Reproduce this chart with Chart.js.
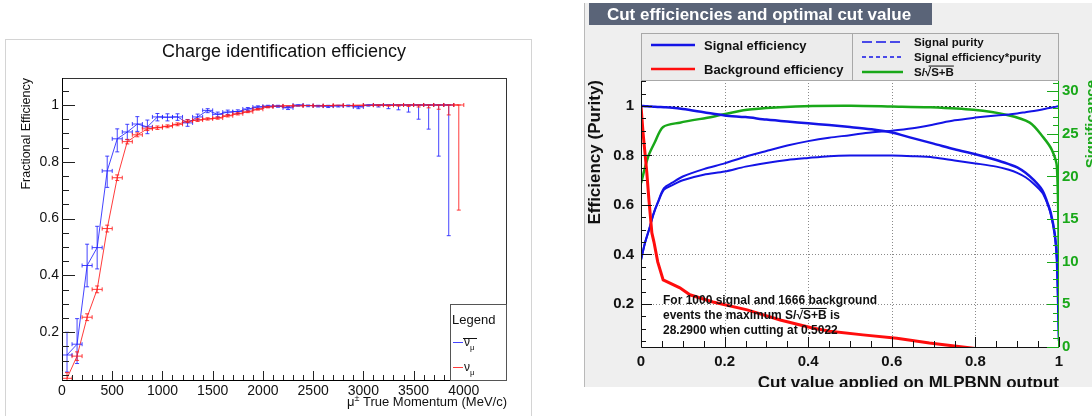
<!DOCTYPE html>
<html>
<head>
<meta charset="utf-8">
<script src="https://cdn.jsdelivr.net/npm/chart.js@4.4.1/dist/chart.umd.min.js"></script>
<style>
html, body { margin: 0; padding: 0; background: #fff; width: 1092px; height: 416px; overflow: hidden; }
#leftFrame { position: absolute; left: 5px; top: 39px; width: 527px; height: 390px; border: 1px solid #d4d4d4; box-sizing: border-box; }
#left { position: absolute; left: 0; top: 0; }
#rightBg { position: absolute; left: 584px; top: 3px; width: 508px; height: 384px; background: #efefef; border-left: 1px solid #b9b9b9; box-sizing: border-box; }
#right { position: absolute; left: 584px; top: 0; }
</style>
</head>
<body>
<div id="leftFrame"></div>
<canvas id="left" width="540" height="416"></canvas>
<div id="rightBg"></div>
<canvas id="right" width="508" height="387"></canvas>
<script>
// ---------- left: charge identification efficiency ----------
const momentum = [50, 150, 250, 350, 450, 550, 650, 750, 850, 950,
  1050, 1150, 1250, 1350, 1450, 1550, 1650, 1750, 1850, 1950,
  2050, 2150, 2250, 2350, 2450, 2550, 2650, 2750, 2850, 2950,
  3050, 3150, 3250, 3350, 3450, 3550, 3650, 3750, 3850, 3950];
const binHalf = 50;

const effAntiNu = [0.12, 0.158, 0.435, 0.498, 0.768, 0.881, 0.905, 0.933, 0.923, 0.958,
  0.957, 0.958, 0.937, 0.958, 0.981, 0.967, 0.975, 0.977, 0.986, 0.993,
  0.996, 0.996, 0.99, 1.0, 0.998, 0.997, 0.996, 0.997, 0.998, 0.993,
  1.0, 1.0, 1.0, 1.0, 1.0, 1.0, 1.0, 1.0, 1.0, null];
const errAntiNuLo = [0.06, 0.068, 0.075, 0.075, 0.058, 0.046, 0.027, 0.026, 0.024, 0.014,
  0.013, 0.012, 0.012, 0.01, 0.008, 0.009, 0.008, 0.007, 0.006, 0.005,
  0.004, 0.004, 0.006, 0.004, 0.004, 0.004, 0.005, 0.004, 0.004, 0.006,
  0.004, 0.007, 0.013, 0.017, 0.025, 0.05, 0.085, 0.18, 0.46, 0];
const errAntiNuHi = [0.08, 0.09, 0.075, 0.075, 0.052, 0.035, 0.027, 0.026, 0.024, 0.012,
  0.012, 0.011, 0.012, 0.01, 0.006, 0.008, 0.007, 0.006, 0.005, 0.004,
  0.003, 0.003, 0.005, 0, 0.002, 0.002, 0.003, 0.002, 0.002, 0.004,
  0, 0, 0, 0, 0, 0, 0, 0, 0, 0];

const effNu = [0.038, 0.116, 0.253, 0.351, 0.565, 0.744, 0.871, 0.895, 0.916, 0.92,
  0.925, 0.932, 0.943, 0.947, 0.951, 0.954, 0.962, 0.969, 0.976, 0.985,
  0.993, 0.996, 0.997, 0.997, 0.998, 0.997, 0.998, 0.999, 0.998, 0.999,
  0.999, 1.0, 0.999, 1.0, 1.0, 1.0, 1.0, 1.0, 1.0, 1.0];
const errNuLo = [0.01, 0.015, 0.012, 0.012, 0.012, 0.01, 0.008, 0.007, 0.006, 0.006,
  0.005, 0.005, 0.005, 0.005, 0.004, 0.004, 0.004, 0.004, 0.003, 0.003,
  0.003, 0.002, 0.002, 0.002, 0.002, 0.002, 0.002, 0.002, 0.002, 0.002,
  0.002, 0.003, 0.003, 0.004, 0.005, 0.007, 0.01, 0.015, 0.035, 0.37];
const errNuHi = [0.02, 0.015, 0.012, 0.012, 0.012, 0.01, 0.008, 0.007, 0.006, 0.006,
  0.005, 0.005, 0.005, 0.005, 0.004, 0.004, 0.004, 0.004, 0.003, 0.003,
  0.002, 0.002, 0.002, 0.002, 0.001, 0.002, 0.001, 0.001, 0.001, 0.001,
  0.001, 0, 0.001, 0, 0, 0, 0, 0, 0, 0];

const momTicks = [0, 500, 1000, 1500, 2000, 2500, 3000, 3500, 4000];
const fracTicks = [0.2, 0.4, 0.6, 0.8, 1];

// ---------- right: cut efficiencies ----------
const cutVal = [0, 0.01, 0.02, 0.03, 0.04, 0.055, 0.075, 0.1, 0.15, 0.2, 0.25, 0.3, 0.35, 0.4, 0.45,
  0.5, 0.55, 0.6, 0.65, 0.7, 0.75, 0.8, 0.85, 0.88, 0.9, 0.92, 0.94, 0.96, 0.97, 0.98, 0.99, 0.995, 1.0];
const sigEff = [1.0, 0.999, 0.998, 0.997, 0.996, 0.995, 0.993, 0.988, 0.975, 0.962, 0.955, 0.945, 0.937, 0.93, 0.923,
  0.915, 0.906, 0.893, 0.87, 0.848, 0.825, 0.805, 0.782, 0.765, 0.752, 0.73, 0.7, 0.66, 0.62, 0.57, 0.48, 0.38, 0.05];
const sigPurity = [0.378, 0.45, 0.505, 0.565, 0.61, 0.668, 0.69, 0.715, 0.745, 0.768, 0.795, 0.818, 0.84, 0.858, 0.872,
  0.882, 0.893, 0.9, 0.91, 0.925, 0.942, 0.953, 0.962, 0.966, 0.97, 0.975, 0.98, 0.986, 0.99, 0.993, 0.996, 0.998, 1.0];
const sigEffPurity = [0.378, 0.449, 0.504, 0.563, 0.607, 0.662, 0.68, 0.7, 0.722, 0.735, 0.755, 0.77, 0.782, 0.79, 0.797,
  0.8, 0.8, 0.8, 0.797, 0.792, 0.78, 0.768, 0.755, 0.742, 0.73, 0.712, 0.685, 0.65, 0.615, 0.565, 0.48, 0.38, 0.05];

const bgCut = [0, 0.005, 0.014, 0.019, 0.026, 0.031, 0.04, 0.053, 0.093, 0.117, 0.172, 0.254, 0.333, 0.41, 0.452,
  0.531, 0.612, 0.69, 0.75, 0.8];
const bgEff = [1.0, 0.89, 0.73, 0.62, 0.487, 0.45, 0.37, 0.297, 0.265, 0.237, 0.208, 0.176, 0.135, 0.103, 0.09,
  0.075, 0.061, 0.042, 0.03, 0.02];

const sigCut = [0, 0.017, 0.033, 0.053, 0.093, 0.172, 0.254, 0.333, 0.41, 0.5022, 0.6, 0.69, 0.795, 0.876, 0.93,
  0.962, 0.983, 0.995, 1.0];
const significance = [19.2, 22.3, 24.0, 25.8, 26.3, 27.0, 27.8, 28.1, 28.25, 28.29, 28.2, 28.1, 27.8, 27.2, 26.3,
  24.6, 23.1, 21.1, 8.0];

const cutTicks = [0, 0.2, 0.4, 0.6, 0.8, 1];
const effTicks = [0.2, 0.4, 0.6, 0.8, 1];
const sigTicks = [0, 5, 10, 15, 20, 25, 30];

const FONT = '"Liberation Sans", Arial, Helvetica, sans-serif';
const blueL = 'rgba(35,35,255,0.85)';
const redL = 'rgba(255,25,25,0.85)';
const blueR = '#1414e6';
const redR = '#ff0d0d';
const greenR = '#19a819';

function pts(xs, ys) {
  return xs.map((x, i) => ({ x: x, y: ys[i] }));
}

function steps(min, max, step) {
  const out = [];
  for (let v = Math.ceil(min / step) * step; v <= max + 1e-9; v += step) out.push(+v.toFixed(6));
  return out;
}

function ticksInside(ctx, scale, values, len, side, a) {
  ctx.beginPath();
  values.forEach(v => {
    if (v < scale.min || v > scale.max) return;
    const p = Math.round(scale.getPixelForValue(v)) + 0.5;
    if (side === 'bottom') { ctx.moveTo(p, a.bottom); ctx.lineTo(p, a.bottom - len); }
    if (side === 'left') { ctx.moveTo(a.left, p); ctx.lineTo(a.left + len, p); }
    if (side === 'right') { ctx.moveTo(a.right, p); ctx.lineTo(a.right - len, p); }
  });
  ctx.stroke();
}

function vText(ctx, text, x, yEnd, font, color) {
  ctx.save();
  ctx.translate(x, yEnd);
  ctx.rotate(-Math.PI / 2);
  ctx.font = font;
  ctx.fillStyle = color;
  ctx.textAlign = 'right';
  ctx.textBaseline = 'alphabetic';
  ctx.fillText(text, 0, 0);
  ctx.restore();
}

// S/sqrt(S+B) with an overline over S+B
function sqrtText(ctx, before, after, x, y, font) {
  ctx.font = font;
  ctx.textAlign = 'left';
  ctx.fillText(before + 'S/\u221A', x, y);
  const w0 = ctx.measureText(before + 'S/').width;
  const w1 = ctx.measureText(before + 'S/\u221A').width;
  const w2 = ctx.measureText('S+B').width;
  ctx.fillText('S+B' + after, x + w1, y);
  const h = parseFloat(font.match(/(\d+(\.\d+)?)px/)[1]);
  ctx.save();
  ctx.lineWidth = 1;
  ctx.beginPath();
  ctx.moveTo(x + w0 + (w1 - w0) * 0.6, y - h * 0.92 + 0.5);
  ctx.lineTo(x + w1 + w2, y - h * 0.92 + 0.5);
  ctx.strokeStyle = ctx.fillStyle;
  ctx.stroke();
  ctx.restore();
}

const leftDecor = {
  id: 'leftDecor',
  afterDatasetsDraw(chart) {
    const { ctx, chartArea: a } = chart;
    const xs = chart.scales.x, ys = chart.scales.y;
    ctx.save();
    ctx.beginPath();
    ctx.rect(a.left, a.top, a.right - a.left, a.bottom - a.top);
    ctx.clip();
    chart.data.datasets.forEach(ds => {
      ctx.strokeStyle = ds.borderColor;
      ctx.lineWidth = 1;
      ctx.beginPath();
      ds.data.forEach((p, i) => {
        if (p.y === null) return;
        const px = xs.getPixelForValue(p.x), py = ys.getPixelForValue(p.y);
        const x0 = xs.getPixelForValue(p.x - binHalf), x1 = xs.getPixelForValue(p.x + binHalf);
        const yLo = ys.getPixelForValue(p.y - ds.errLo[i]), yHi = ys.getPixelForValue(p.y + ds.errHi[i]);
        ctx.moveTo(x0, py); ctx.lineTo(x1, py);
        ctx.moveTo(x0, py - 2); ctx.lineTo(x0, py + 2);
        ctx.moveTo(x1, py - 2); ctx.lineTo(x1, py + 2);
        if (ds.errLo[i] > 0.002 || ds.errHi[i] > 0.002) {
          ctx.moveTo(px, yLo); ctx.lineTo(px, yHi);
          ctx.moveTo(px - 2, yLo); ctx.lineTo(px + 2, yLo);
          ctx.moveTo(px - 2, yHi); ctx.lineTo(px + 2, yHi);
        }
      });
      ctx.stroke();
    });
    ctx.restore();
  },
  afterDraw(chart) {
    const { ctx, chartArea: a } = chart;
    const xs = chart.scales.x, ys = chart.scales.y;
    ctx.save();
    // frame
    ctx.strokeStyle = '#333';
    ctx.lineWidth = 1;
    ctx.strokeRect(a.left + 0.5, a.top + 0.5, a.right - a.left - 1, a.bottom - a.top);
    ctx.strokeStyle = '#000';
    ctx.beginPath();
    ctx.moveTo(a.left + 0.5, a.top); ctx.lineTo(a.left + 0.5, a.bottom + 0.5); ctx.lineTo(a.right, a.bottom + 0.5);
    ctx.stroke();
    ctx.strokeStyle = '#222';
    ticksInside(ctx, xs, momTicks, 9, 'bottom', a);
    ticksInside(ctx, xs, steps(0, 4430, 100), 5, 'bottom', a);
    ticksInside(ctx, ys, fracTicks, 13, 'left', a);
    ticksInside(ctx, ys, steps(ys.min, ys.max, 0.05), 7, 'left', a);

    // titles
    ctx.fillStyle = '#111';
    ctx.font = '18px ' + FONT;
    ctx.textAlign = 'center';
    ctx.textBaseline = 'middle';
    ctx.fillText('Charge identification efficiency', 284, 52);
    vText(ctx, 'Fractional Efficiency', 30, a.top, '12.5px ' + FONT, '#111');

    ctx.textBaseline = 'alphabetic';
    ctx.textAlign = 'left';
    ctx.font = '13px ' + FONT;
    const rest = ' True Momentum (MeV/c)';
    const wMu = ctx.measureText('\u03BC').width;
    const wRest = ctx.measureText(rest).width;
    ctx.font = '9px ' + FONT;
    const wPm = ctx.measureText('\u00B1').width;
    let x = a.right - wRest - wPm - wMu;
    ctx.font = '13px ' + FONT;
    ctx.fillText('\u03BC', x, 406);
    ctx.font = '9px ' + FONT;
    ctx.fillText('\u00B1', x + wMu, 401);
    ctx.font = '13px ' + FONT;
    ctx.fillText(rest, x + wMu + wPm, 406);

    // legend box
    const lx = 450, ly = 304;
    ctx.fillStyle = '#fff';
    ctx.fillRect(lx, ly, a.right - lx, a.bottom - ly);
    ctx.strokeStyle = '#555';
    ctx.strokeRect(lx + 0.5, ly + 0.5, a.right - lx - 1, a.bottom - ly);
    ctx.fillStyle = '#111';
    ctx.font = '13px ' + FONT;
    ctx.fillText('Legend', lx + 2, 324);
    const rows = [{ c: blueL, y: 342, bar: true }, { c: redL, y: 367, bar: false }];
    rows.forEach(r => {
      ctx.strokeStyle = r.c;
      ctx.beginPath();
      ctx.moveTo(lx + 3, r.y + 0.5); ctx.lineTo(lx + 13, r.y + 0.5);
      ctx.stroke();
      ctx.fillStyle = '#111';
      ctx.font = '12px ' + FONT;
      ctx.fillText('\u03BD', lx + 14, r.y + 4);
      ctx.font = '8px ' + FONT;
      ctx.fillText('\u03BC', lx + 20, r.y + 8);
      if (r.bar) {
        ctx.strokeStyle = '#111';
        ctx.beginPath();
        ctx.moveTo(lx + 13, r.y - 3.5); ctx.lineTo(lx + 27, r.y - 3.5);
        ctx.stroke();
      }
    });
    ctx.restore();
  }
};

new Chart(document.getElementById('left'), {
  type: 'line',
  data: {
    datasets: [
      { label: 'anti-nu-mu', data: pts(momentum, effAntiNu), borderColor: blueL, borderWidth: 1,
        pointRadius: 0, tension: 0, spanGaps: false, errLo: errAntiNuLo, errHi: errAntiNuHi },
      { label: 'nu-mu', data: pts(momentum, effNu), borderColor: redL, borderWidth: 1,
        pointRadius: 0, tension: 0, errLo: errNuLo, errHi: errNuHi }
    ]
  },
  options: {
    responsive: false,
    animation: false,
    layout: { padding: { top: 78, right: 33, left: 0, bottom: 0 } },
    plugins: { legend: { display: false }, tooltip: { enabled: false } },
    scales: {
      x: {
        type: 'linear', min: 0, max: 4430,
        grid: { display: false, drawTicks: false }, border: { display: false },
        afterBuildTicks: s => { s.ticks = momTicks.map(v => ({ value: v })); },
        afterFit: s => { s.height = 36; },
        ticks: { font: { family: FONT, size: 14 }, color: '#111', padding: 3, maxRotation: 0, autoSkip: false,
          callback: v => String(v) }
      },
      y: {
        type: 'linear', min: 0.032, max: 1.095,
        grid: { display: false, drawTicks: false }, border: { display: false },
        afterBuildTicks: s => { s.ticks = fracTicks.map(v => ({ value: v })); },
        afterFit: s => { s.width = 62; },
        ticks: { font: { family: FONT, size: 14 }, color: '#111', padding: 3, autoSkip: false,
          callback: v => String(v) }
      }
    }
  },
  plugins: [leftDecor]
});

const rightDecor = {
  id: 'rightDecor',
  beforeDatasetsDraw(chart) {
    const { ctx, chartArea: a } = chart;
    const xs = chart.scales.x, ys = chart.scales.y;
    ctx.save();
    ctx.fillStyle = '#fff';
    ctx.fillRect(a.left, a.top, a.right - a.left, a.bottom - a.top);
    ctx.strokeStyle = '#8a8a8a';
    ctx.lineWidth = 1;
    ctx.setLineDash([1, 2]);
    ctx.beginPath();
    [0.2, 0.4, 0.6, 0.8].forEach(v => {
      const px = Math.round(xs.getPixelForValue(v)) + 0.5;
      ctx.moveTo(px, a.top); ctx.lineTo(px, a.bottom);
      const py = Math.round(ys.getPixelForValue(v)) + 0.5;
      ctx.moveTo(a.left, py); ctx.lineTo(a.right, py);
    });
    ctx.stroke();
    ctx.strokeStyle = '#222';
    ctx.setLineDash([2, 2]);
    ctx.beginPath();
    const p1 = Math.round(ys.getPixelForValue(1)) + 0.5;
    ctx.moveTo(a.left, p1); ctx.lineTo(a.right, p1);
    ctx.stroke();
    ctx.restore();
  },
  afterDraw(chart) {
    const { ctx, chartArea: a } = chart;
    const xs = chart.scales.x, ys = chart.scales.y, y2 = chart.scales.y2;
    ctx.save();
    ctx.lineWidth = 1;
    // axes
    ctx.strokeStyle = '#111';
    ctx.beginPath();
    ctx.moveTo(a.left + 0.5, a.top); ctx.lineTo(a.left + 0.5, a.bottom + 0.5); ctx.lineTo(a.right, a.bottom + 0.5);
    ctx.stroke();
    ticksInside(ctx, xs, cutTicks, 10, 'bottom', a);
    ticksInside(ctx, xs, steps(0, 1, 0.05), 6, 'bottom', a);
    ticksInside(ctx, ys, effTicks, 11, 'left', a);
    ticksInside(ctx, ys, steps(ys.min, ys.max, 0.05), 5, 'left', a);
    ctx.strokeStyle = greenR;
    ctx.beginPath();
    ctx.moveTo(a.right - 0.5, a.top); ctx.lineTo(a.right - 0.5, a.bottom + 1);
    ctx.stroke();
    const ar = { left: a.left, right: a.right - 1, top: a.top, bottom: a.bottom };
    ticksInside(ctx, y2, sigTicks, 11, 'right', ar);
    ticksInside(ctx, y2, steps(0, y2.max, 1), 5, 'right', ar);

    // title box
    ctx.fillStyle = '#5a6478';
    ctx.fillRect(5, 3, 343, 22);
    ctx.fillStyle = '#fff';
    ctx.font = 'bold 17px ' + FONT;
    ctx.textAlign = 'center';
    ctx.textBaseline = 'middle';
    ctx.fillText('Cut efficiencies and optimal cut value', 175, 15);

    // legend
    ctx.fillStyle = '#ececec';
    ctx.fillRect(a.left, 33, a.right - a.left, a.top - 33);
    ctx.strokeStyle = '#a8a8a8';
    ctx.strokeRect(a.left + 0.5, 33.5, a.right - a.left - 1, a.top - 33);
    ctx.beginPath();
    ctx.moveTo(268.5, 33); ctx.lineTo(268.5, a.top);
    ctx.stroke();
    const legRow = (x0, x1, y, color, width, dash, label, size, tx) => {
      ctx.strokeStyle = color;
      ctx.lineWidth = width;
      ctx.setLineDash(dash);
      ctx.beginPath();
      ctx.moveTo(x0, y); ctx.lineTo(x1, y);
      ctx.stroke();
      ctx.setLineDash([]);
      ctx.lineWidth = 1;
      ctx.fillStyle = '#111';
      ctx.textAlign = 'left';
      ctx.textBaseline = 'alphabetic';
      if (label === null) {
        sqrtText(ctx, '', '', tx, y + size * 0.36, 'bold ' + size + 'px ' + FONT);
      } else {
        ctx.font = 'bold ' + size + 'px ' + FONT;
        ctx.fillText(label, tx, y + size * 0.36);
      }
    };
    legRow(67, 111, 45, blueR, 2.5, [], 'Signal efficiency', 13, 120);
    legRow(67, 111, 69, redR, 2.5, [], 'Background efficiency', 13, 120);
    legRow(278, 319, 42, blueR, 1.5, [10, 4], 'Signal purity', 11.5, 330);
    legRow(278, 319, 57, blueR, 1.5, [4, 3], 'Signal efficiency*purity', 11.5, 330);
    legRow(278, 319, 72, greenR, 2.5, [], null, 11.5, 330);

    // annotation
    ctx.fillStyle = '#111';
    ctx.font = 'bold 12px ' + FONT;
    ctx.textAlign = 'left';
    ctx.textBaseline = 'alphabetic';
    ctx.fillText('For 1000 signal and 1666 background', 79, 304);
    sqrtText(ctx, 'events the maximum ', ' is', 79, 319, 'bold 12px ' + FONT);
    ctx.font = 'bold 12px ' + FONT;
    ctx.fillText('28.2900 when cutting at 0.5022', 79, 334);

    // axis titles
    vText(ctx, 'Efficiency (Purity)', 15.5, a.top, 'bold 17px ' + FONT, '#111');
    vText(ctx, 'Significance', 512, a.top, 'bold 15px ' + FONT, greenR);
    ctx.fillStyle = '#111';
    ctx.font = 'bold 17px ' + FONT;
    ctx.textAlign = 'right';
    ctx.textBaseline = 'alphabetic';
    ctx.fillText('Cut value applied on MLPBNN output', a.right, 388);
    ctx.restore();
  }
};

new Chart(document.getElementById('right'), {
  type: 'line',
  data: {
    datasets: [
      { label: 'Signal efficiency', data: pts(cutVal, sigEff), borderColor: blueR, borderWidth: 2.5,
        pointRadius: 0, tension: 0.3, yAxisID: 'y' },
      { label: 'Background efficiency', data: pts(bgCut, bgEff), borderColor: redR, borderWidth: 3,
        pointRadius: 0, tension: 0, yAxisID: 'y' },
      { label: 'Signal purity', data: pts(cutVal, sigPurity), borderColor: blueR, borderWidth: 2,
        pointRadius: 0, tension: 0.3, yAxisID: 'y' },
      { label: 'Signal efficiency*purity', data: pts(cutVal, sigEffPurity), borderColor: blueR, borderWidth: 2,
        pointRadius: 0, tension: 0.3, yAxisID: 'y' },
      { label: 'S/sqrt(S+B)', data: pts(sigCut, significance), borderColor: greenR, borderWidth: 2.5,
        pointRadius: 0, tension: 0.3, yAxisID: 'y2' }
    ]
  },
  options: {
    responsive: false,
    animation: false,
    layout: { padding: { top: 80, right: 0, left: 0, bottom: 0 } },
    plugins: { legend: { display: false }, tooltip: { enabled: false } },
    scales: {
      x: {
        type: 'linear', min: 0, max: 1,
        grid: { display: false, drawTicks: false }, border: { display: false },
        afterBuildTicks: s => { s.ticks = cutTicks.map(v => ({ value: v })); },
        afterFit: s => { s.height = 40; },
        ticks: { font: { family: FONT, size: 15, weight: 'bold' }, color: '#111', padding: 6, maxRotation: 0,
          autoSkip: false, callback: v => String(v) }
      },
      y: {
        type: 'linear', position: 'left', min: 0.026, max: 1.105,
        grid: { display: false, drawTicks: false }, border: { display: false },
        afterBuildTicks: s => { s.ticks = effTicks.map(v => ({ value: v })); },
        afterFit: s => { s.width = 57; },
        ticks: { font: { family: FONT, size: 15, weight: 'bold' }, color: '#111', padding: 7, autoSkip: false,
          callback: v => String(v) }
      },
      y2: {
        type: 'linear', position: 'right', min: 0, max: 31.3,
        grid: { display: false, drawTicks: false }, border: { display: false },
        afterBuildTicks: s => { s.ticks = sigTicks.map(v => ({ value: v })); },
        afterFit: s => { s.width = 33; },
        ticks: { font: { family: FONT, size: 15, weight: 'bold' }, color: greenR, padding: 3, autoSkip: false,
          callback: v => String(v) }
      }
    }
  },
  plugins: [rightDecor]
});
</script>
</body>
</html>
